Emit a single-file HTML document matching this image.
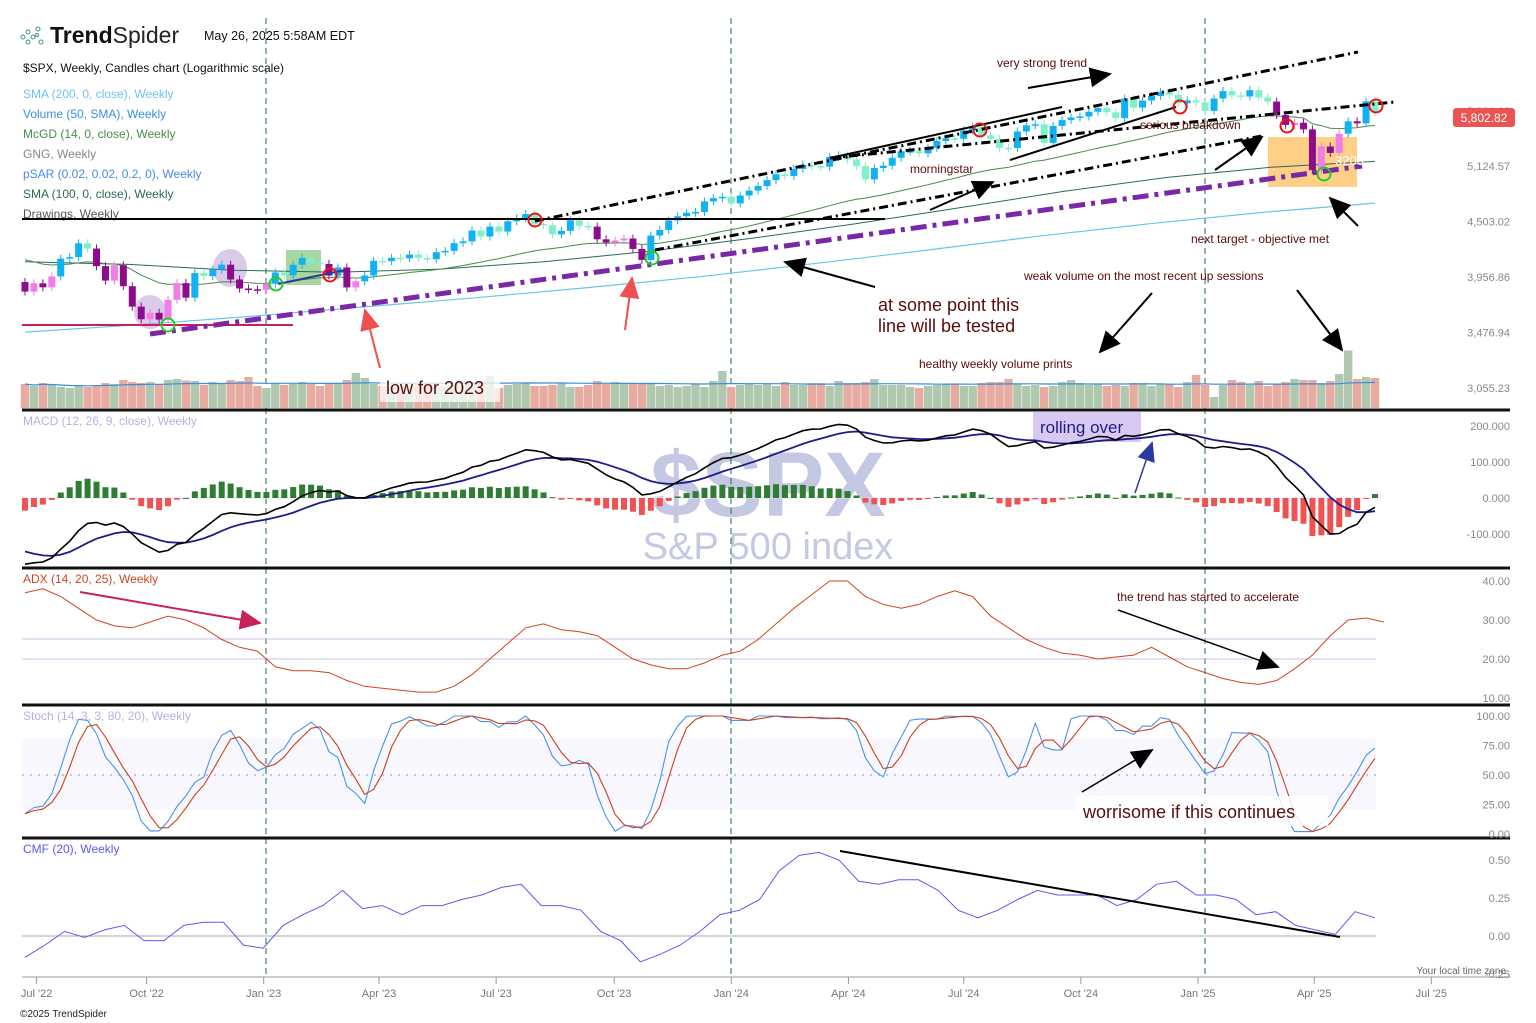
<!DOCTYPE html>
<html><head><meta charset="utf-8">
<style>
html,body{margin:0;padding:0;background:#fff;}
svg{display:block;font-family:"Liberation Sans",sans-serif;}
</style></head>
<body>
<svg id="chart" width="1536" height="1023" viewBox="0 0 1536 1023" xmlns="http://www.w3.org/2000/svg">
<defs>
<marker id="ahb" markerWidth="22" markerHeight="20" refX="20" refY="10" orient="auto" markerUnits="userSpaceOnUse"><path d="M0,0 L22,10 L0,20 Z" fill="#000"/></marker>
<marker id="ahr" markerWidth="22" markerHeight="20" refX="20" refY="10" orient="auto" markerUnits="userSpaceOnUse"><path d="M0,0 L22,10 L0,20 Z" fill="#ee5050"/></marker>
<marker id="ahc" markerWidth="22" markerHeight="20" refX="20" refY="10" orient="auto" markerUnits="userSpaceOnUse"><path d="M0,0 L22,10 L0,20 Z" fill="#c8205a"/></marker>
<marker id="ahn" markerWidth="20" markerHeight="18" refX="18" refY="9" orient="auto" markerUnits="userSpaceOnUse"><path d="M0,0 L20,9 L0,18 Z" fill="#2a3aa0"/></marker>
</defs>

<g>
  <circle cx="23" cy="37" r="2" fill="none" stroke="#3a9a7a" stroke-width="1"/>
  <circle cx="28" cy="32" r="2" fill="none" stroke="#3a9a7a" stroke-width="1"/>
  <circle cx="28" cy="42" r="2" fill="none" stroke="#3a9a7a" stroke-width="1"/>
  <circle cx="33" cy="37" r="2" fill="none" stroke="#3a9a7a" stroke-width="1"/>
  <circle cx="38" cy="29" r="2" fill="none" stroke="#3a9a7a" stroke-width="1"/>
  <circle cx="41" cy="42" r="2" fill="none" stroke="#3a9a7a" stroke-width="1"/>
  <circle cx="37" cy="35" r="1.5" fill="none" stroke="#3a9a7a" stroke-width="1"/>
</g>
<text x="50" y="43" font-size="23" fill="#111"><tspan font-weight="bold">Trend</tspan><tspan font-weight="normal" fill="#222">Spider</tspan></text>
<text x="204" y="40" font-size="12.5" fill="#111">May 26, 2025 5:58AM EDT</text>
<text x="23" y="72" font-size="12" fill="#111">$SPX, Weekly, Candles chart (Logarithmic scale)</text>
<g font-size="12">
  <text x="23" y="98" fill="#6cc4ee">SMA (200, 0, close), Weekly</text>
  <text x="23" y="118" fill="#3a8ee0">Volume (50, SMA), Weekly</text>
  <text x="23" y="138" fill="#4a8a4a">McGD (14, 0, close), Weekly</text>
  <text x="23" y="158" fill="#888">GNG, Weekly</text>
  <text x="23" y="178" fill="#4a8ae8">pSAR (0.02, 0.02, 0.2, 0), Weekly</text>
  <text x="23" y="198" fill="#2a6a5a">SMA (100, 0, close), Weekly</text>
  <text x="23" y="218" fill="#555">Drawings, Weekly</text>
</g>

<text x="768" y="516" font-size="92" font-weight="bold" fill="#c5c8e2" text-anchor="middle">$SPX</text>
<text x="768" y="559" font-size="38" fill="#c5c8e2" text-anchor="middle">S&amp;P 500 index</text>

<g id="bg"></g>
<g id="price"></g>
<g id="vol"></g>
<g id="macd"></g>
<g id="adx"></g>
<g id="stoch"></g>
<g id="cmf"></g>
<g id="draw"></g>
<g id="axes"></g>
</svg>

<script>
// ===== DATA =====
const preCloses = [4677,4662,4398,4431,4500,4418,4348,4385,4328,4204,4463,4543,4545,4488,4392,4272,4131,4123,4023,3901,4158,4108,3900,3675,3911];
const weekLabels = ["Jul '22","Oct '22","Jan '23","Apr '23","Jul '23","Oct '23","Jan '24","Apr '24","Jul '24","Oct '24","Jan '25","Apr '25","Jul '25"];
const weekLabelIdx = [1.3,13.6,26.7,39.6,52.7,65.9,79,92.1,105,118.1,131.2,144.2,157.3];
const closes = [3825,
3899,3863,3962,4130,4145,4280,4228,4058,3924,4067,3873,3693,3586,3640,3583,3752,3901,3771,3993,3965,4026,4072,3934,3852,3845,3840,
3895,3999,3972,4071,4136,4090,4079,3970,4046,3862,3917,3971,4109,4105,4138,4133,4169,4136,4124,4192,4205,4282,4299,4410,4348,4450,4399,4505,4536,4582,4478,4464,4370,4406,4516,4457,4450,4320,4288,4309,4328,4224,4117,4358,4415,4514,4559,4595,4604,4719,4755,4770,
4697,4784,4840,4891,4959,5027,5006,5089,5137,5124,5117,5234,5254,5204,5123,4967,5100,5128,5223,5303,5305,5278,5347,5432,5465,5460,5567,5615,5505,5459,5346,5344,5554,5634,5648,5408,5626,5703,5738,5751,5815,5865,5808,5729,5996,5871,5969,6032,6090,6051,5931,5971,
5942,5827,5997,6101,6041,6026,6115,6013,5955,5770,5639,5668,5581,5074,5363,5283,5525,5687,5660,5958,5803];
const volumes = [48,44,50,46,42,40,44,42,46,50,48,56,52,50,52,48,56,58,55,54,46,52,50,56,54,62,44,
40,50,46,48,52,50,44,48,50,56,70,60,48,44,42,46,44,48,50,42,44,50,46,52,54,64,40,46,48,50,44,44,46,50,42,42,46,54,48,52,50,50,48,50,44,46,42,44,48,42,54,74,42,
46,48,46,48,44,52,46,46,50,50,44,54,50,50,52,58,46,46,46,42,40,44,46,48,48,44,44,50,52,52,58,48,44,46,42,44,52,56,50,46,48,44,46,44,50,50,44,48,48,42,52,66,46,
22,46,56,52,46,54,44,48,52,58,56,56,50,54,68,115,58,62,60,60,58];
const sma200 = [3480,3540,3610,3690,3770,3860,3960,4080,4210,4350,4480,4600,4700];
const sma100 = [4100,4075,4020,4000,4030,4100,4200,4330,4480,4650,4830,4990,5110,5180];
const adx = [37,38,36,33,30,28.5,28,29.5,31,30,28,25,23,22,18,17,17,16.5,14.5,13,12.5,12,11.5,11.5,13,16,20,24,28,29,27.5,27,26,23,20,18.5,17.5,17.5,19,21,22,25,29,33,36.5,40,40,36,34,33,34,36,37.5,36,31,28,25,23,21.5,21,20,20.5,21,23,20.5,18,16.5,15,14,13.5,14.5,17.5,21,26,30,30.5,29.5];
const cmf = [-0.14,-0.06,0.03,-0.01,0.04,0.07,-0.03,-0.03,0.07,0.09,0.09,-0.06,-0.08,0.07,0.14,0.2,0.3,0.18,0.2,0.14,0.2,0.2,0.24,0.27,0.32,0.34,0.2,0.2,0.17,0.03,-0.03,-0.17,-0.12,-0.06,0.03,0.14,0.17,0.24,0.43,0.53,0.55,0.5,0.36,0.34,0.37,0.37,0.3,0.17,0.12,0.17,0.24,0.3,0.27,0.27,0.27,0.2,0.24,0.34,0.36,0.27,0.27,0.24,0.14,0.16,0.07,0.04,0.01,0.16,0.12];
const priceTicks = [5124.57,4503.02,3956.86,3476.94,3055.23];
const macdTicks = [200,100,0,-100];
const adxTicks = [40,30,20,10];
const stochTicks = [100,75,50,25,0];
const cmfTicks = [0.5,0.25,0,-0.25];

// ===== SCALES =====
const N = closes.length;
const X0 = 25, X1 = 1375, W = (X1-X0)/(N-1);
const xw = i => X0 + i*W;
const py = p => 166 - Math.log(p/5124.57)/0.1293*55.5;
const my = v => 498 - v*0.36;
const ay = v => 659 - (v-20)*3.9;
const sy = v => 834 - v*1.18;
const cy = v => 936 - v*152;
const NS = "http://www.w3.org/2000/svg";
function mk(parent, tag, attrs){const e=document.createElementNS(NS,tag);for(const k in attrs)e.setAttribute(k,attrs[k]);document.getElementById(parent).appendChild(e);return e;}
function pts(arr, xf, yf){return arr.map((v,i)=>xf(i).toFixed(1)+","+yf(v).toFixed(1)).join(" ");}

let e;
e = mk('bg','rect',{x:22,y:739,width:1354,height:71,fill:'#f7f7fd'});


e = mk('bg','rect',{x:1268,y:137,width:89,height:50,fill:'#fecf86'});


e = mk('bg','rect',{x:286,y:250,width:35,height:35,fill:'#a8d6a0'});


e = mk('bg','ellipse',{cx:150,cy:312,rx:16,ry:17,fill:'#dccbe8'});


e = mk('bg','ellipse',{cx:230,cy:268,rx:17,ry:19,fill:'#dccbe8'});


e = mk('bg','rect',{x:1033,y:412,width:108,height:30,fill:'#d9c9f2'});


[266,731,1205].forEach(x=>{
  const l = mk('bg','line',{x1:x,y1:18,x2:x,y2:976,stroke:'#1d6a5a','stroke-width':1,'stroke-dasharray':'6,4'});
  
  
});
[639,659].forEach(v=>{
  const l = mk('bg','line',{x1:22,y1:v,x2:1376,y2:v,stroke:'#c6c0e6','stroke-width':1});
  
  
});
e = mk('bg','line',{x1:22,y1:sy(50),x2:1376,y2:sy(50),stroke:'#b8b0e8','stroke-width':1.5,'stroke-dasharray':'2,6'});


e = mk('bg','line',{x1:22,y1:cy(0),x2:1376,y2:cy(0),stroke:'#aaa','stroke-width':1});


e = mk('bg','line',{x1:22,y1:my(0),x2:1376,y2:my(0),stroke:'#e8e4f4','stroke-width':1});



// ===== derived indicators =====
const all = preCloses.concat(closes);
const P = preCloses.length;
function ema(arr,n){const k=2/(n+1);let r=[arr[0]];for(let i=1;i<arr.length;i++)r.push(arr[i]*k+r[i-1]*(1-k));return r;}
const e12=ema(all,12), e26=ema(all,26);
const macdAll = all.map((v,i)=>e12[i]-e26[i]);
const sigAll = ema(macdAll,9);
const macdLine = macdAll.slice(P), sigLine = sigAll.slice(P);
const e20 = ema(all,20).slice(P);
let md=[all[0]];for(let i=1;i<all.length;i++){const m=md[i-1];md.push(m+(all[i]-m)/(14*Math.pow(all[i]/m,4)));}
const mcgd = md.slice(P);
const rawK = closes.map((c,i)=>{const j=i+P;const win=all.slice(j-13,j+1);const lo=Math.min(...win),hi=Math.max(...win);return hi>lo?(c-lo)/(hi-lo)*100:50;});
const sma=(a,n)=>a.map((v,i)=>{const s=a.slice(Math.max(0,i-n+1),i+1);return s.reduce((x,y)=>x+y,0)/s.length;});
const stK = sma(rawK,3), stD = sma(stK,3);

// ===== price panel =====
const sX = (arr)=> i => xw(i*(N-1)/(arr.length-1));
e = mk('price','polyline',{points:pts(sma200,sX(sma200),py),fill:'none',stroke:'#6cc4ee','stroke-width':1.2});


e = mk('price','polyline',{points:pts(sma100,sX(sma100),py),fill:'none',stroke:'#2a6a5a','stroke-width':1});


e = mk('price','polyline',{points:pts(mcgd,xw,py),fill:'none',stroke:'#4a8a4a','stroke-width':1});


closes.forEach((c,i)=>{
  const o = i===0 ? preCloses[P-1] : closes[i-1];
  const up = c>=o, above = c>=e20[i];
  const col = above ? (up?'#12b2f2':'#7ff0c8') : (up?'#f07ee8':'#8c0c8c');
  const x = xw(i), yt = py(Math.max(o,c)), yb = py(Math.min(o,c));
  const w = mk('price','line',{x1:x,y1:yt-4,x2:x,y2:yb+4,stroke:col,'stroke-width':1});
  
  
  const r = mk('price','rect',{x:x-3.5,y:yt,width:7,height:Math.max(1.5,yb-yt),fill:col});
  
  
});

// ===== volume =====
const vols = volumes.slice(0,N);
vols.forEach((v,i)=>{
  const o = i===0 ? preCloses[P-1] : closes[i-1];
  const up = closes[i]>=o;
  const h = v*0.5;
  const r = mk('vol','rect',{x:xw(i)-4.2,y:408-h,width:8.4,height:h,fill:up?'#b1c8b0':'#e7aba2'});
  
  
});
const volAvg = sma(vols,50);
e = mk('vol','polyline',{points:pts(volAvg,xw,v=>408-v*0.5),fill:'none',stroke:'#3a8ee0','stroke-width':1.2});



// ===== MACD =====
macdLine.forEach((m,i)=>{
  const h = m - sigLine[i];
  const y0 = my(0), y1 = my(h);
  const r = mk('macd','rect',{x:xw(i)-3,y:Math.min(y0,y1),width:6,height:Math.max(1,Math.abs(y1-y0)),fill:h>=0?'#2e7d32':'#f05252'});
  
  
});
e = mk('macd','polyline',{points:pts(sigLine,xw,my),fill:'none',stroke:'#1c1c8c','stroke-width':1.8});


e = mk('macd','polyline',{points:pts(macdLine,xw,my),fill:'none',stroke:'#000','stroke-width':1.6});



// ===== ADX =====
e = mk('adx','polyline',{points:pts(adx,i=>xw(i*2),ay),fill:'none',stroke:'#d0451a','stroke-width':1});



// ===== Stoch =====
e = mk('stoch','polyline',{points:pts(stK,xw,sy),fill:'none',stroke:'#4a92ee','stroke-width':1.1});


e = mk('stoch','polyline',{points:pts(stD,xw,sy),fill:'none',stroke:'#cc4018','stroke-width':1.1});



// ===== CMF =====
e = mk('cmf','polyline',{points:pts(cmf,sX(cmf),cy),fill:'none',stroke:'#5a5af0','stroke-width':1});



// ===== drawings =====
function line(x1,y1,x2,y2,stroke,sw,dash,marker,name){
  const l = mk('draw','line',{x1,y1,x2,y2,stroke,'stroke-width':sw});
  if(dash) l.setAttribute('stroke-dasharray',dash);
  if(marker) l.setAttribute('marker-end','url(#'+marker+')');
  
  
}
line(22,219,885,219,'#000',2,null,null,'resistance-line');
line(22,325,293,325,'#c8205a',2,null,null,'support-line-2022');
line(150,334,1362,166,'#7a28a8',5,'16,6,4,6',null,'long-term-trendline');
line(535,221,1358,52,'#000',3,'9,4,2,4',null,'upper-channel-line');
line(830,158,1395,102,'#000',3,'9,4,2,4',null,'mid-channel-line');
line(655,250,1262,136,'#000',3,'9,4,2,4',null,'lower-channel-line');
line(830,158,1062,107,'#000',2,null,null,'trend-line-solid');
line(278,284,345,270,'#2a3aa0',2,null,null,'short-trendline');
line(1010,160,1176,107,'#000',2,null,null,'breakdown-pointer');
line(1028,88,1110,74,'#000',2,null,'ahb','arrow-very-strong-trend');
line(930,210,993,182,'#000',2,null,'ahb','arrow-morningstar');
line(1215,170,1262,137,'#000',2,null,'ahb','arrow-breakdown-retest');
line(1358,226,1330,198,'#000',2,null,'ahb','arrow-next-target');
line(875,287,785,262,'#000',2,null,'ahb','arrow-line-tested');
line(1152,293,1100,352,'#000',2,null,'ahb','arrow-healthy-volume');
line(1297,290,1342,350,'#000',2,null,'ahb','arrow-weak-volume');
line(380,368,365,310,'#ee5050',2,null,'ahr','arrow-low-2023');
line(625,330,632,278,'#ee5050',2,null,'ahr','arrow-low-oct-2023');
line(1135,493,1152,443,'#2a3aa0',1.5,null,'ahn','arrow-rolling-over');
line(80,592,260,623,'#c8205a',2,null,'ahc','arrow-adx-decline');
line(1118,610,1278,667,'#000',1.5,null,'ahb','arrow-adx-accelerate');
line(1082,792,1152,750,'#000',1.5,null,'ahb','arrow-stoch');
line(840,851,1340,937,'#000',2,null,null,'cmf-divergence-line');
[[168,325,'#22cc22'],[276,284,'#22cc22'],[652,258,'#22cc22'],[1324,174,'#22cc22'],[330,275,'#ee1111'],[535,220,'#ee1111'],[1180,107,'#ee1111'],[980,130,'#ee1111'],[1287,126,'#ee1111'],[1376,106,'#ee1111']].forEach(c=>{
  const el = mk('draw','circle',{cx:c[0],cy:c[1],r:6.5,fill:'none',stroke:c[2],'stroke-width':2});
  
  
});
function txt(s,x,y,size,fill,name){
  const t = mk('draw','text',{x,y,'font-size':size,fill:fill||'#5a0c0c'});
  t.textContent = s;
  
  
  return t;
}
e = mk('draw','rect',{x:380,y:374,width:120,height:28,fill:'#fff','fill-opacity':0.75});


e = mk('draw','rect',{x:1076,y:796,width:252,height:30,fill:'#fff','fill-opacity':0.85});


txt('very strong trend',997,67,12,null,'note-very-strong-trend');
txt('serious breakdown',1140,129,12,null,'note-serious-breakdown');
txt('morningstar',910,173,12,null,'note-morningstar');
txt('3200',1335,165,13,'#fff','note-3200');
txt('next target - objective met',1191,243,12,null,'note-next-target');
txt('weak volume on the most recent up sessions',1024,280,12,null,'note-weak-volume');
txt('at some point this',878,311,18,null,'note-line-tested-1');
txt('line will be tested',878,332,18,null,'note-line-tested-2');
txt('healthy weekly volume prints',919,368,12,null,'note-healthy-volume');
txt('low for 2023',386,394,18,null,'note-low-2023');
txt('rolling over',1040,433,17,'#1c1c8c','note-rolling-over');
txt('the trend has started to accelerate',1117,601,12,null,'note-trend-accelerate');
txt('worrisome if this continues',1083,818,18,null,'note-worrisome');

// ===== axes =====
[410,568,705,838].forEach(y=>{
  const l = mk('axes','line',{x1:22,y1:y,x2:1510,y2:y,stroke:'#111','stroke-width':3});
  
  
});
e = mk('axes','line',{x1:22,y1:977,x2:1510,y2:977,stroke:'#999','stroke-width':1});


weekLabels.forEach((s,k)=>{
  const x = xw(weekLabelIdx[k]);
  const t = mk('axes','line',{x1:x,y1:977,x2:x,y2:984,stroke:'#999','stroke-width':1});
  
  
  const tx = mk('axes','text',{x:x,y:997,'font-size':11,fill:'#777','text-anchor':'middle'});
  tx.textContent = s;
  
  
});
function ylab(arr,yf,fmt,name){
  arr.forEach(v=>{
    const t = mk('axes','text',{x:1510,y:yf(v)+4,'font-size':11,fill:'#888','text-anchor':'end'});
    t.textContent = fmt(v);
    
    
  });
}
ylab(priceTicks,py,v=>v.toLocaleString('en-US',{minimumFractionDigits:2,maximumFractionDigits:2}),'price-axis-label');
ylab(macdTicks,my,v=>v.toFixed(3),'macd-axis-label');
ylab(adxTicks,ay,v=>v.toFixed(2),'adx-axis-label');
ylab(stochTicks,sy,v=>v.toFixed(2),'stoch-axis-label');
ylab(cmfTicks,cy,v=>v.toFixed(2),'cmf-axis-label');
e = mk('axes','text',{x:1510,y:115,'font-size':11,fill:'#888','text-anchor':'end'});
e.textContent='5,821.01';


e = mk('axes','rect',{x:1453,y:108,width:62,height:19,rx:3,fill:'#ec5454'});


e = mk('axes','text',{x:1484,y:122,'font-size':12,fill:'#fff','text-anchor':'middle'});
e.textContent = closes[N-1].toLocaleString('en-US',{minimumFractionDigits:2});
e.textContent='5,802.82';


[['MACD (12, 26, 9, close), Weekly',425,'#b8b0e0','macd-title'],['ADX (14, 20, 25), Weekly',583,'#d0451a','adx-title'],['Stoch (14, 3, 3, 80, 20), Weekly',720,'#b8b0e0','stoch-title'],['CMF (20), Weekly',853,'#5a5af0','cmf-title']].forEach(a=>{
  const t = mk('axes','text',{x:23,y:a[1],'font-size':12,fill:a[2]});
  t.textContent=a[0];
  
  
});
e = mk('axes','text',{x:1506,y:974,'font-size':10,fill:'#666','text-anchor':'end'});
e.textContent='Your local time zone';


e = mk('axes','text',{x:20,y:1017,'font-size':10,fill:'#222'});
e.textContent='©2025 TrendSpider';


</script>
</body></html>
